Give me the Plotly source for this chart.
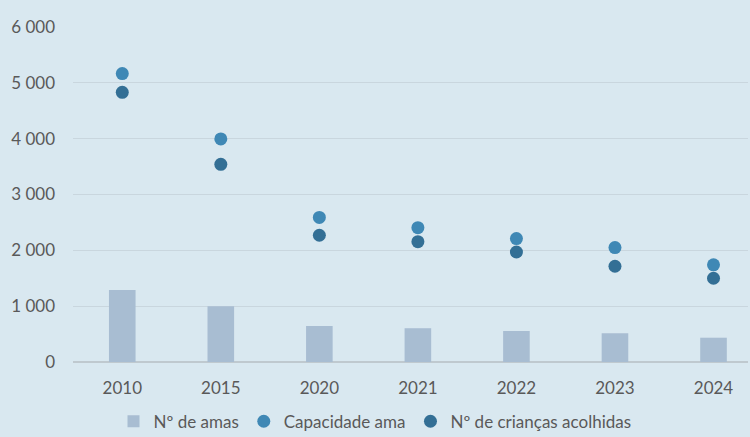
import plotly.graph_objects as go

years = ["2010", "2015", "2020", "2021", "2022", "2023", "2024"]
n_amas = [1290, 1000, 645, 605, 555, 515, 435]
capacidade = [5165, 3995, 2590, 2405, 2210, 2050, 1740]
criancas = [4830, 3540, 2270, 2155, 1970, 1715, 1500]

bg = "#d9e8f0"
txt = "#595959"
fam = "Lato, Open Sans, Liberation Sans, sans-serif"

fig = go.Figure()
fig.add_trace(go.Bar(x=years, y=n_amas, name="Nº de amas", marker=dict(color="#a8bdd2", line=dict(width=0)), width=0.27))
fig.add_trace(go.Scatter(x=years, y=capacidade, name="Capacidade ama", mode="markers",
                         marker=dict(color="#3f88b5", size=13)))
fig.add_trace(go.Scatter(x=years, y=criancas, name="Nº de crianças acolhidas", mode="markers",
                         marker=dict(color="#336f95", size=13)))

fig.update_layout(
    width=750, height=437,
    paper_bgcolor=bg, plot_bgcolor=bg,
    margin=dict(l=73, r=2, t=27, b=75, autoexpand=False),
    font=dict(family=fam, size=17, color=txt),
    separators=", ",
    showlegend=True,
    legend=dict(orientation="h", x=0.5, xref="container", xanchor="center", y=0.035, yref="container", yanchor="middle",
                font=dict(family=fam, size=17, color=txt), traceorder="normal", itemwidth=30,
                bgcolor="rgba(0,0,0,0)"),
    xaxis=dict(type="category", range=[-0.5, 6.35], showgrid=False, showline=False, ticks="",
               automargin=False, tickfont=dict(family=fam, size=17, color=txt), ticklabelstandoff=14),
    yaxis=dict(range=[0, 6000], dtick=1000, tickformat=",d", showgrid=True, gridcolor="#c9d6de", gridwidth=1,
               zeroline=True, zerolinecolor="#bfc9cf", zerolinewidth=1.5, showline=False, ticks="",
               automargin=False, tickfont=dict(family=fam, size=17, color=txt), ticklabelstandoff=17),
)

fig.write_html("out.html", config={"displayModeBar": False},
               post_script="document.body.style.margin='0px';document.body.style.background='%s';" % bg)
